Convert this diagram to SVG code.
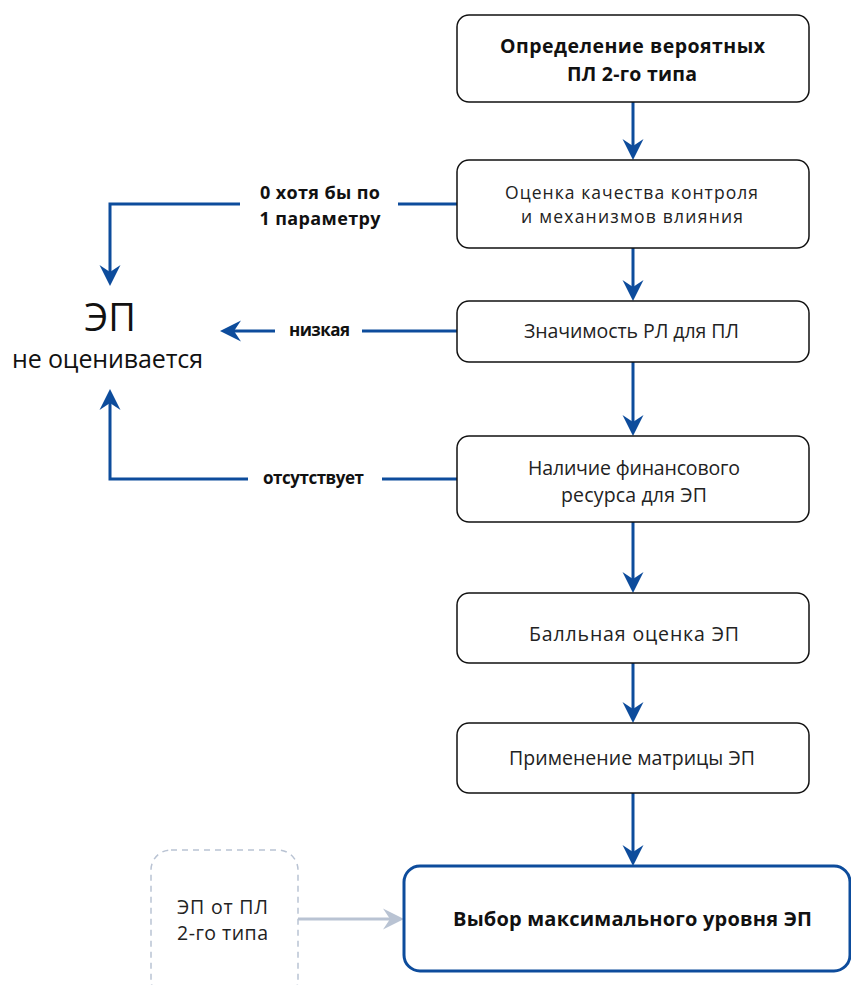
<svg xmlns="http://www.w3.org/2000/svg" width="851" height="985" viewBox="0 0 851 985">
<style>
.box{fill:#fff;stroke:#111;stroke-width:1.5}
.t{font-family:"Open Sans","Noto Sans","DejaVu Sans",sans-serif;font-size:19.5px;fill:#222;text-anchor:middle}
.b{font-family:"Open Sans","Noto Sans","DejaVu Sans",sans-serif;font-weight:bold;fill:#111;text-anchor:middle}
.c{fill:none;stroke:#0D4C9C;stroke-width:3}
.g{fill:none;stroke:#B9C3D3;stroke-width:3}
</style>
<defs>
<marker id="ah" markerUnits="userSpaceOnUse" markerWidth="22" markerHeight="22" viewBox="0 0 22 22" refX="14" refY="11" orient="auto">
<path d="M0,0.5 L21,11 L0,21.5 L7,11 Z" fill="#0D4C9C"/>
</marker>
<marker id="ahg" markerUnits="userSpaceOnUse" markerWidth="22" markerHeight="22" viewBox="0 0 22 22" refX="14" refY="11" orient="auto">
<path d="M0,0.5 L21,11 L0,21.5 L7,11 Z" fill="#B9C3D3"/>
</marker>
</defs>
<rect width="851" height="985" fill="#fff"/>
<g id="connectors">
<line class="c" x1="633" y1="102" x2="633" y2="153" marker-end="url(#ah)"/>
<line class="c" x1="633" y1="248" x2="633" y2="294" marker-end="url(#ah)"/>
<line class="c" x1="633" y1="362" x2="633" y2="429" marker-end="url(#ah)"/>
<line class="c" x1="633" y1="522" x2="633" y2="586" marker-end="url(#ah)"/>
<line class="c" x1="633" y1="663" x2="633" y2="716" marker-end="url(#ah)"/>
<line class="c" x1="633" y1="793" x2="633" y2="859" marker-end="url(#ah)"/>
<line class="c" x1="457" y1="204" x2="398" y2="204"/>
<path class="c" d="M240,204 H110 V279" marker-end="url(#ah)"/>
<line class="c" x1="457" y1="331" x2="362" y2="331"/>
<line class="c" x1="275" y1="331" x2="227" y2="331" marker-end="url(#ah)"/>
<line class="c" x1="457" y1="479" x2="382" y2="479"/>
<path class="c" d="M248,479 H110 V396" marker-end="url(#ah)"/>
<line class="g" x1="298" y1="919" x2="397" y2="919" marker-end="url(#ahg)"/>
<text class="b" x="320" y="199" font-size="18" textLength="120">0 хотя бы по</text>
<text class="b" x="320" y="225" font-size="18" textLength="121">1 параметру</text>
<text class="b" x="319.5" y="336" font-size="17" textLength="61">низкая</text>
<text class="b" x="313.5" y="484" font-size="17" textLength="101">отсутствует</text>
</g>
<g id="n1"><rect class="box" x="457" y="15" width="352" height="87" rx="12"/>
<text class="b" x="632.5" y="53" font-size="19.5" textLength="265">Определение вероятных</text>
<text class="b" x="632" y="80.5" font-size="19.5" textLength="130">ПЛ 2-го типа</text></g>
<g id="n2"><rect class="box" x="457" y="160" width="352" height="88" rx="12"/>
<text class="t" x="631.5" y="199" font-size="17.5" style="font-size:17.5px" textLength="253">Оценка качества контроля</text>
<text class="t" x="632" y="223" style="font-size:17.5px" textLength="222">и механизмов влияния</text></g>
<g id="n3"><rect class="box" x="457" y="301" width="352" height="61" rx="12"/>
<text class="t" x="631.5" y="338" textLength="215">Значимость РЛ для ПЛ</text></g>
<g id="n4"><rect class="box" x="457" y="436" width="352" height="86" rx="12"/>
<text class="t" x="634" y="475" textLength="212">Наличие финансового</text>
<text class="t" x="634" y="502" textLength="146">ресурса для ЭП</text></g>
<g id="n5"><rect class="box" x="457" y="593" width="352" height="70" rx="12"/>
<text class="t" x="634" y="641" textLength="210">Балльная оценка ЭП</text></g>
<g id="n6"><rect class="box" x="457" y="723" width="352" height="70" rx="12"/>
<text class="t" x="632" y="765" textLength="246">Применение матрицы ЭП</text></g>
<g id="n7"><rect x="404" y="866" width="446" height="105" rx="16" fill="#fff" stroke="#0D4C9C" stroke-width="3"/>
<text class="b" x="632.5" y="926" font-size="20" textLength="359">Выбор максимального уровня ЭП</text></g>
<g id="n8"><rect x="151" y="850" width="147" height="150" rx="20" fill="#fff" stroke="#B9C3D3" stroke-width="1.5" stroke-dasharray="6 5"/>
<text class="t" x="222.5" y="914" textLength="91">ЭП от ПЛ</text>
<text class="t" x="222.5" y="940" textLength="91">2-го типа</text></g>
<g id="n9">
<text x="110" y="331" font-family="'Open Sans','Noto Sans',sans-serif" font-size="38" font-weight="500" fill="#111" text-anchor="middle">ЭП</text>
<text x="107.5" y="368" font-family="'Open Sans','Noto Sans',sans-serif" font-size="25" fill="#111" text-anchor="middle" textLength="191">не оценивается</text>
</g>
</svg>
